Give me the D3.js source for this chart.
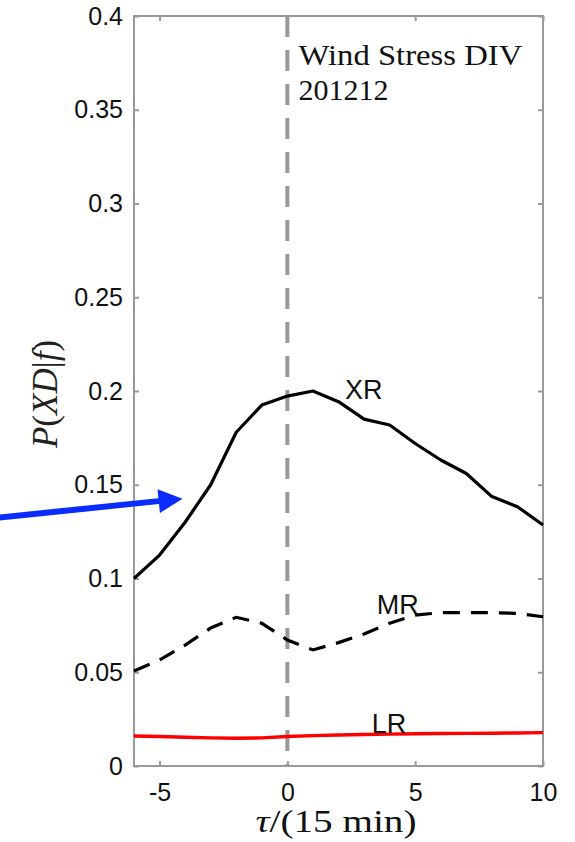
<!DOCTYPE html>
<html>
<head>
<meta charset="utf-8">
<script src="https://cdn.jsdelivr.net/npm/d3@7"></script>
<style>
  body { margin: 0; background: #fff; }
  svg { display: block; }
  .tick text { font-family: "Liberation Sans", Arial, sans-serif; font-size: 25px; fill: #111; }
  .tick line { stroke: #999; stroke-width: 2; }
  .domain { display: none; }
</style>
</head>
<body>
<div id="chart"></div>
<script>
//data
var tau = [-6, -5, -4, -3, -2, -1, 0, 1, 2, 3, 4, 5, 6, 7, 8, 9, 10];
var xr = [0.100, 0.1125, 0.130, 0.150, 0.178, 0.1925, 0.1973, 0.200, 0.1943, 0.185, 0.1819, 0.172, 0.1632, 0.156, 0.1437, 0.1383, 0.1285];
var mr = [0.0507, 0.0565, 0.0645, 0.0736, 0.0793, 0.0761, 0.0672, 0.0619, 0.0658, 0.0704, 0.0761, 0.0805, 0.0818, 0.0818, 0.0818, 0.0814, 0.0796];
var lr = [0.0160, 0.0157, 0.0153, 0.0150, 0.0148, 0.0150, 0.0157, 0.0162, 0.0165, 0.0168, 0.0170, 0.0172, 0.0173, 0.0174, 0.0175, 0.0176, 0.0178];
var xTicks = [-5, 0, 5, 10];
var xTickLabels = ["-5", "0", "5", "10"];
var yTicks = [0, 0.05, 0.1, 0.15, 0.2, 0.25, 0.3, 0.35, 0.4];
var yTickLabels = ["0", "0.05", "0.1", "0.15", "0.2", "0.25", "0.3", "0.35", "0.4"];
var seriesNames = ["XR", "MR", "LR"];
//label anchors in data units
var labelTau = [2.25, 3.5, 3.3];
var labelP = [0.1957, 0.0811, 0.0176];
//arrow annotation (data units), tail then tip
var arrowTau = [-11.3, -4.1];
var arrowP = [0.1325, 0.1426];

//set margins and size
var W = 575, H = 842;
var margin = {top: 16, right: 32, bottom: 76, left: 134},
  width = W - margin.left - margin.right,
  height = H - margin.top - margin.bottom;

var x = d3.scaleLinear().domain([-6, 10]).range([0, width]);
var y = d3.scaleLinear().domain([0, 0.4]).range([height, 0]);

var svg = d3.select("#chart").append("svg")
    .attr("width", W).attr("height", H);

var g = svg.append("g")
    .attr("transform", "translate(" + margin.left + "," + margin.top + ")");

//vertical dashed line at tau = 0
g.append("line")
  .attr("x1", x(0)).attr("x2", x(0))
  .attr("y1", 0).attr("y2", height)
  .attr("stroke", "#999").attr("stroke-width", 4)
  .attr("stroke-dasharray", "21,13");

//axes, ticks pointing inward
g.append("g")
  .attr("transform", "translate(0," + height + ")")
  .call(d3.axisBottom(x).tickValues(xTicks).tickSize(-5).tickPadding(17)
    .tickFormat(function(d, i) { return xTickLabels[i]; }));
g.append("g")
  .call(d3.axisTop(x).tickValues(xTicks).tickSize(-5).tickFormat(""));
g.append("g")
  .call(d3.axisLeft(y).tickValues(yTicks).tickSize(-5).tickPadding(11)
    .tickFormat(function(d, i) { return yTickLabels[i]; }));
g.append("g")
  .attr("transform", "translate(" + width + ",0)")
  .call(d3.axisRight(y).tickValues(yTicks).tickSize(-5).tickFormat(""));

//frame
g.append("rect")
  .attr("width", width).attr("height", height)
  .attr("fill", "none").attr("stroke", "#999").attr("stroke-width", 2);

var line = d3.line()
  .x(function(d, i) { return x(tau[i]); })
  .y(function(d) { return y(d); });

g.append("path").datum(xr)
  .attr("d", line).attr("fill", "none")
  .attr("stroke", "#000").attr("stroke-width", 3.2).attr("stroke-linejoin", "round");
g.append("path").datum(mr)
  .attr("d", line).attr("fill", "none")
  .attr("stroke", "#000").attr("stroke-width", 3.2).attr("stroke-dasharray", "17,11");
g.append("path").datum(lr)
  .attr("d", line).attr("fill", "none")
  .attr("stroke", "#ff0000").attr("stroke-width", 3.5);

//series labels
g.selectAll(".slabel").data(seriesNames).enter().append("text")
  .attr("class", "slabel")
  .attr("x", function(d, i) { return x(labelTau[i]); })
  .attr("y", function(d, i) { return y(labelP[i]); })
  .attr("font-family", "'Liberation Sans', Arial, sans-serif")
  .attr("font-size", 27)
  .attr("fill", "#111")
  .text(function(d) { return d; });

//title text inside plot
var title = g.append("text")
  .attr("font-family", "'Liberation Serif', 'Times New Roman', serif")
  .attr("font-size", 30)
  .attr("fill", "#111");
title.append("tspan").attr("x", x(0) + 11).attr("y", 49)
  .attr("textLength", 224).attr("lengthAdjust", "spacingAndGlyphs").text("Wind Stress DIV");
title.append("tspan").attr("x", x(0) + 11).attr("y", 84).text("201212");

//axis labels
svg.append("text")
  .attr("x", 336).attr("y", 832)
  .attr("text-anchor", "middle")
  .attr("font-family", "'Liberation Serif', 'Times New Roman', serif")
  .attr("font-size", 31)
  .attr("fill", "#111")
  .attr("textLength", 161).attr("lengthAdjust", "spacingAndGlyphs")
  .html('<tspan font-style="italic">τ</tspan>/(15 min)');

svg.append("text")
  .attr("transform", "translate(57,394) rotate(-90)")
  .attr("text-anchor", "middle")
  .attr("font-family", "'Liberation Serif', 'Times New Roman', serif")
  .attr("font-size", 35)
  .attr("fill", "#222")
  .html('<tspan font-style="italic">P</tspan>(<tspan font-style="italic">XD</tspan>|<tspan font-style="italic">f</tspan>)');

//blue arrow
var ax0 = margin.left + x(arrowTau[0]), ay0 = margin.top + y(arrowP[0]);
var ax1 = margin.left + x(arrowTau[1]), ay1 = margin.top + y(arrowP[1]);
var ang = Math.atan2(ay1 - ay0, ax1 - ax0);
var headLen = 24, headHalf = 12;
var bx = ax1 - headLen * Math.cos(ang), by = ay1 - headLen * Math.sin(ang);
svg.append("line")
  .attr("x1", ax0).attr("y1", ay0).attr("x2", bx + 2 * Math.cos(ang)).attr("y2", by + 2 * Math.sin(ang))
  .attr("stroke", "#0b2dfc").attr("stroke-width", 6);
svg.append("path")
  .attr("d", "M" + ax1 + "," + ay1 +
    "L" + (bx - headHalf * Math.sin(ang)) + "," + (by + headHalf * Math.cos(ang)) +
    "L" + (bx + headHalf * Math.sin(ang)) + "," + (by - headHalf * Math.cos(ang)) + "Z")
  .attr("fill", "#0b2dfc");
</script>
</body>
</html>
